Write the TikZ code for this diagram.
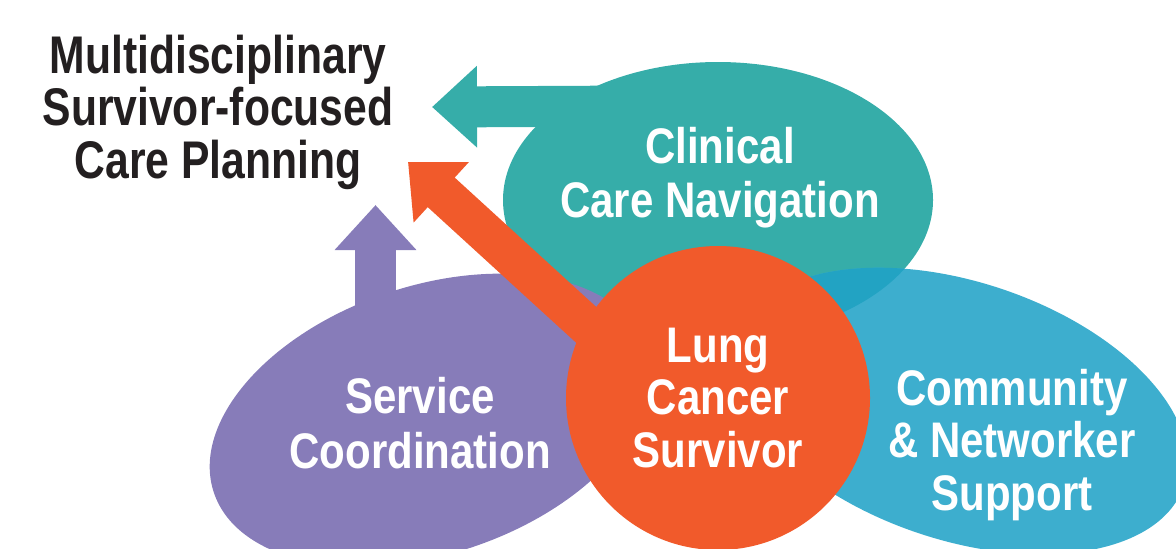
\documentclass[tikz,border=0pt]{standalone}
\usepackage{fontspec}
\setmainfont{Liberation Sans}[FakeStretch=0.84]
\usetikzlibrary{shapes.geometric,arrows.meta}
\definecolor{cteal}{HTML}{36ADA9}
\definecolor{cblue}{HTML}{3DAECE}
\definecolor{cover}{HTML}{22A3C3}
\definecolor{cpurple}{HTML}{877CB9}
\definecolor{corange}{HTML}{F15A2B}
\definecolor{ctext}{HTML}{231F20}
\begin{document}
\begin{tikzpicture}[x=0.5pt,y=-0.5pt,
  blob/.style={ellipse, inner sep=0pt, outer sep=0pt, draw=none},
  wtext/.style={font=\bfseries\fontsize{25}{26.5}\selectfont, text=white, align=center, inner sep=0pt, anchor=base},
  ttext/.style={font=\bfseries\fontsize{26.5}{26.25}\selectfont, text=ctext, align=center, inner sep=0pt, anchor=base},
  fatarrow/.style={line width=20.5pt, line cap=butt, -{Triangle[length=22.5pt, width=39.5pt]}}
]
\useasboundingbox (0,0) rectangle (1176,548);
\clip (0,0) rectangle (1176,548);
% clinical (teal)
\node[blob, fill=cteal, minimum width=215pt, minimum height=138pt] (clin) at (718,200) {};
\coordinate (clinS) at (640,106);
\coordinate (clinTip) at (432,107);
\draw[fatarrow, cteal] (clinS) -- (clinTip);
% community (blue)
\node[blob, fill=cblue, minimum width=236pt, minimum height=129pt, rotate=-18.4] (comm) at (960,411) {};
\begin{scope}
  \clip[rotate around={-18.4:(960,411)}] (960,411) ellipse [x radius=236, y radius=129];
  \fill[cover] (718,200) ellipse [x radius=215, y radius=138];
\end{scope}
% service (purple)
\node[blob, fill=cpurple, minimum width=228pt, minimum height=134pt, rotate=18.6] (serv) at (430,420) {};
\coordinate (servS) at (375.5,380);
\coordinate (servTip) at (375.5,205);
\draw[fatarrow, cpurple] (servS) -- (servTip);
% orange arrow and circle
\coordinate (lungS) at (663,395);
\coordinate (lungTip) at (408,162);
\draw[fatarrow, corange, line width=20pt] (lungS) -- (lungTip);
\node[circle, fill=corange, inner sep=0pt, minimum size=152pt] (lung) at (718,398) {};
% texts (base anchor = baseline of the last line)
\node[ttext, font=\bfseries\fontsize{26.5}{26.25}\selectfont\addfontfeatures{FakeStretch=0.805}] (titleT) at (218,178) {Multidisciplinary\\Survivor-focused\\Care Planning};
\node[wtext, font=\bfseries\fontsize{25}{27}\selectfont] (clinT) at (720,217) {Clinical\\Care Navigation};
\node[wtext, font=\bfseries\fontsize{25}{27.5}\selectfont] (servT) at (420,468) {Service\\Coordination};
\node[wtext, font=\bfseries\fontsize{25}{26.25}\selectfont] (lungT) at (718,467) {Lung\\Cancer\\Survivor};
\node[wtext, font=\bfseries\fontsize{25}{26.25}\selectfont] (commT) at (1012,510) {Community\\\& Networker\\Support};
\end{tikzpicture}
\end{document}
